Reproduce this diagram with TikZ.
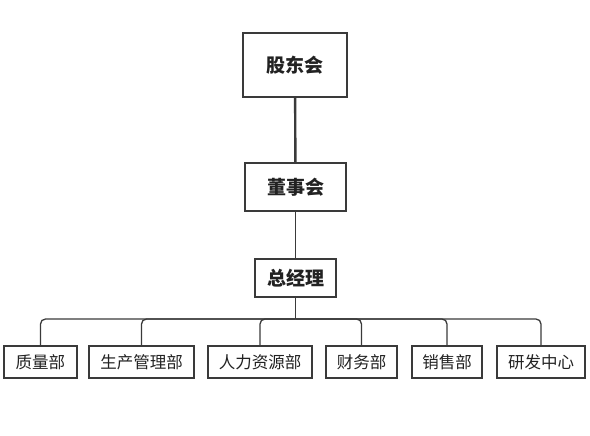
\documentclass[tikz,border=0pt]{standalone}
\usepackage{fontspec}
\newfontfamily\cjk{Noto Sans CJK SC}
\definecolor{ln}{HTML}{3A3A3A}
\definecolor{tx}{HTML}{222222}
\tikzset{
  box/.style={draw=ln, line width=1.4pt, fill=white, inner sep=0pt, align=center, text=tx},
  topbox/.style={box, font=\cjk\fontsize{19}{22}\selectfont\bfseries},
  dept/.style={box, minimum height=32pt, font=\cjk\fontsize{16.5}{19}\selectfont},
  conn/.style={draw=ln, line width=1.3pt},
}
\begin{document}
\begin{tikzpicture}[x=1pt,y=-1pt]
\useasboundingbox (0,0) rectangle (590,436);
\node[topbox, line width=2.2pt, minimum width=104pt, minimum height=64pt] (sh) at (295,65) {股东会};
\node[topbox, minimum width=101pt, minimum height=48pt] (bd) at (295.5,187) {董事会};
\node[topbox, minimum width=81pt, minimum height=38pt] (gm) at (295.5,278) {总经理};
\node[dept, minimum width=73pt] (c1) at (40.5,362) {质量部};
\node[dept, minimum width=105pt] (c2) at (141.5,362) {生产管理部};
\node[dept, minimum width=104pt] (c3) at (260,362) {人力资源部};
\node[dept, minimum width=71pt] (c4) at (361.5,362) {财务部};
\node[dept, minimum width=70pt] (c5) at (447,362) {销售部};
\node[dept, minimum width=88pt] (c6) at (541,362) {研发中心};
\coordinate (bus) at (295.5,319);
\draw[conn, line width=2.4pt] (sh) -- (bd);
\draw[conn] (bd) -- (gm);
\draw[conn] (gm) -- (bus);
\foreach \c in {c1,c2,c3,c4,c5,c6}
  \draw[conn, rounded corners=5pt] (bus) -| (\c.north);
\end{tikzpicture}
\end{document}
